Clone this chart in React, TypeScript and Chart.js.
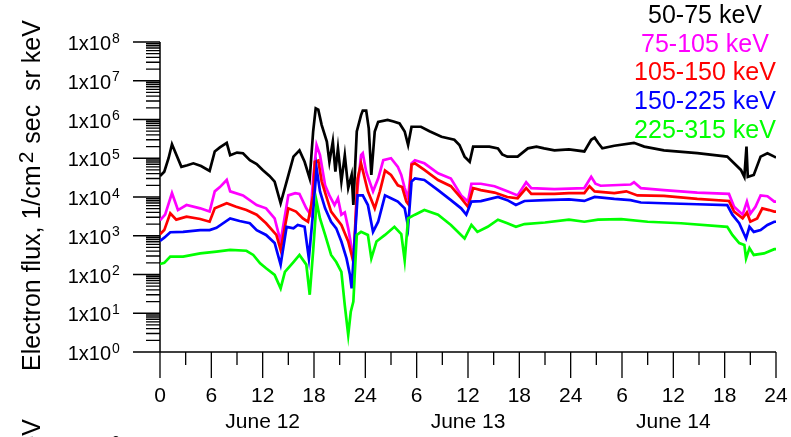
import React, { useEffect, useRef } from "react";
import { Chart, registerables } from "chart.js";

Chart.register(...registerables);

// ---- Data (hours since June 12 00:00 UT, flux in 1/(cm2 sec sr keV)) ----
const seriesLabels = ["50-75 keV", "75-105 keV", "105-150 keV", "150-225 keV", "225-315 keV"];
const seriesColors = ["#000000", "#ff00ff", "#ff0000", "#0000ff", "#00ff00"];

const blackHours = [0, 0.5, 1, 1.4, 1.8, 2.5, 3.2, 3.9, 4.8, 5.8, 6.4, 7, 7.8, 8.2, 9, 9.7, 10.5, 11.3, 12, 12.8, 13.4, 14.1, 14.8, 15.6, 16.3, 16.9, 17.5, 17.9, 18.2, 18.5, 18.9, 19.5, 19.8, 20.2, 20.5, 20.8, 21.2, 21.6, 22, 22.4, 22.6, 23, 23.5, 23.7, 24.1, 24.4, 24.7, 25.1, 25.5, 26.6, 27.3, 28, 28.6, 29, 29.4, 30.5, 31.5, 32.9, 34.4, 35, 35.6, 36.2, 36.6, 37.5, 38.5, 39.5, 40, 40.6, 41.8, 43, 44, 44.9, 46.1, 47.8, 49.6, 50.4, 50.8, 51.2, 51.7, 53.1, 55.4, 56.6, 58.9, 62.8, 66.3, 67.1, 67.9, 68.3, 68.55, 68.7, 69.4, 70.2, 71, 71.8, 72];
const blackFlux = [3.5e4, 4.5e4, 1.0e5, 2.3e5, 1.4e5, 6.0e4, 6.6e4, 7.4e4, 6.3e4, 4.7e4, 1.5e5, 1.9e5, 2.5e5, 1.2e5, 1.4e5, 1.35e5, 8.9e4, 7.1e4, 5.0e4, 3.5e4, 2.5e4, 6.9e3, 2.5e4, 1.1e5, 1.6e5, 8.1e4, 3.0e4, 4.9e5, 1.95e6, 1.8e6, 7.2e5, 2.7e5, 8.1e4, 2.7e5, 4.5e4, 1.8e5, 2.5e4, 1.2e5, 1.7e4, 3.7e4, 6.2e3, 4.9e5, 1.3e6, 1.7e6, 1.7e6, 5.9e5, 3.7e4, 4.9e5, 8.7e5, 9.8e5, 8.9e5, 7.9e5, 4.9e5, 2.2e5, 6.5e5, 6.5e5, 5.0e5, 3.6e5, 3.0e5, 2.2e5, 1.1e5, 8.1e4, 2.0e5, 2.0e5, 2.0e5, 1.8e5, 1.26e5, 1.1e5, 1.1e5, 1.8e5, 2.0e5, 1.8e5, 1.6e5, 1.7e5, 1.5e5, 3.0e5, 3.4e5, 2.5e5, 1.8e5, 2.1e5, 2.5e5, 2.0e5, 1.6e5, 1.35e5, 1.1e5, 7.4e4, 5.0e4, 3.3e4, 2.0e5, 3.3e4, 3.7e4, 1.1e5, 1.35e5, 1.1e5, 1.05e5];

const magentaHours = [0, 0.6, 1.4, 2.1, 3.1, 4.7, 5.8, 6.4, 7, 7.8, 8.2, 9.7, 11.3, 12.4, 13.4, 14.1, 15, 15.8, 16.3, 17.1, 17.6, 17.9, 18.3, 18.7, 19.3, 19.8, 20.4, 20.8, 21.2, 21.6, 22, 22.4, 22.7, 23, 23.5, 23.7, 24.1, 24.9, 25.5, 26.1, 27, 27.8, 28.2, 28.6, 29, 29.4, 29.8, 30.9, 32.5, 34, 35.2, 36, 36.4, 37.5, 39.1, 40.6, 41.8, 42.8, 43.4, 46.1, 49.6, 50.4, 50.9, 51.5, 55, 55.4, 56.2, 58.9, 62.8, 66.5, 67.1, 68.1, 68.6, 69, 69.6, 70.2, 71, 71.8, 72];
const magentaFlux = [2.5e3, 3.5e3, 1.26e4, 4.6e3, 6.2e3, 5.1e3, 4.2e3, 1.4e4, 1.8e4, 2.75e4, 1.4e4, 1.1e4, 6.2e3, 5.1e3, 2.8e3, 7.1e2, 1.1e4, 1.26e4, 1.2e4, 5.1e3, 3.5e3, 3.0e4, 2.2e5, 1.2e5, 2.0e4, 1.1e4, 6.2e3, 9.3e3, 3.5e3, 4.0e3, 1.55e3, 4.8e2, 3.2e2, 1.1e4, 1.2e5, 1.35e5, 4.5e4, 1.4e4, 3.0e4, 8.9e4, 1.0e5, 6.0e4, 3.7e4, 1.7e4, 9.3e3, 7.4e4, 8.9e4, 7.4e4, 4.1e4, 3.0e4, 1.1e4, 7.6e3, 2.2e4, 2.2e4, 1.9e4, 1.4e4, 1.1e4, 2.4e4, 1.7e4, 1.6e4, 1.7e4, 3.3e4, 2.2e4, 1.95e4, 2.1e4, 2.4e4, 1.7e4, 1.5e4, 1.3e4, 1.2e4, 5.6e3, 3.5e3, 7.6e3, 3.7e3, 5.6e3, 1.1e4, 1.05e4, 7.6e3, 7.6e3];

const redHours = [0, 0.5, 1.2, 1.9, 3.1, 4.7, 5.8, 6.4, 7.8, 8.9, 10.1, 11.3, 12.4, 13.6, 14.1, 15, 15.9, 16.7, 17.3, 17.9, 18.1, 18.5, 18.9, 19.5, 20, 20.6, 21.2, 22, 22.4, 22.6, 23, 23.1, 23.5, 24.3, 25.1, 25.7, 26.3, 27, 27.8, 28.3, 28.8, 29.1, 29.4, 29.8, 30.9, 32.5, 34, 35.2, 36, 36.6, 37.5, 39.1, 40.6, 41.8, 42.8, 43.4, 46.1, 47.8, 49.6, 50.2, 50.8, 53.1, 54.5, 55.8, 58.9, 62.8, 66.5, 67.1, 68.1, 68.6, 69, 69.8, 70.4, 71.2, 71.8, 72];
const redFlux = [1.1e3, 1.4e3, 3.8e3, 2.6e3, 3.1e3, 2.7e3, 2.3e3, 5.1e3, 6.9e3, 5.6e3, 4.6e3, 3.5e3, 2.1e3, 1.05e3, 4.3e2, 5.1e3, 4.2e3, 2.8e3, 2.3e3, 1.1e4, 8.1e4, 8.7e4, 2.5e4, 9.3e3, 4.2e3, 2.8e3, 1.9e3, 7.1e2, 3.2e2, 2.1e2, 1.1e4, 3.0e4, 7.4e4, 1.4e4, 5.1e3, 1.4e4, 4.8e4, 3.7e4, 2.0e4, 1.8e4, 7.6e3, 6.2e3, 6.8e4, 7.4e4, 5.0e4, 2.75e4, 1.9e4, 9.3e3, 5.6e3, 1.7e4, 1.5e4, 1.3e4, 1.0e4, 9.3e3, 1.7e4, 1.2e4, 1.2e4, 1.26e4, 1.26e4, 1.9e4, 1.4e4, 1.26e4, 1.4e4, 1.1e4, 1.07e4, 8.9e3, 7.9e3, 4.2e3, 2.8e3, 4.0e3, 2.3e3, 2.8e3, 5.1e3, 4.6e3, 4.2e3, 4.2e3];

const blueHours = [0, 0.5, 1.2, 2.7, 4.7, 5.8, 6.6, 8.2, 9.3, 10.5, 11.3, 12.4, 13.4, 14.1, 14.8, 15.6, 16.1, 16.9, 17.4, 17.9, 18.3, 18.7, 19.3, 20, 20.6, 21.2, 21.8, 22.2, 22.4, 22.7, 23.1, 23.7, 24.3, 24.9, 25.5, 26.3, 27, 27.8, 28.6, 29, 29.4, 29.8, 30.9, 32.5, 34, 35.2, 35.8, 36.4, 37.5, 39.5, 40.6, 41.6, 42.6, 45, 47.8, 49.6, 50.8, 53.1, 55, 56.2, 58.9, 62.8, 66.3, 66.9, 67.7, 68.5, 68.9, 69.4, 70.2, 71, 71.8, 72];
const blueFlux = [7.4e2, 8.9e2, 1.23e3, 1.26e3, 1.4e3, 1.4e3, 1.6e3, 2.8e3, 2.4e3, 2.1e3, 1.4e3, 1.05e3, 6.5e2, 1.8e2, 1.7e3, 1.55e3, 1.9e3, 1.7e3, 2.6e2, 4.2e3, 5.5e4, 1.4e4, 5.1e3, 2.3e3, 1.55e3, 7.1e2, 2.6e2, 98, 44, 4.8e2, 1.1e4, 1.1e4, 6.2e3, 1.26e3, 2.3e3, 1.1e4, 9.3e3, 7.6e3, 5.1e3, 1.7e3, 2.5e4, 3.0e4, 2.75e4, 1.5e4, 8.3e3, 5.1e3, 3.5e3, 7.6e3, 7.8e3, 1.0e4, 8.3e3, 6.2e3, 7.9e3, 8.3e3, 8.7e3, 7.9e3, 1.0e4, 8.9e3, 8.3e3, 7.2e3, 6.9e3, 6.5e3, 6.2e3, 3.5e3, 2.1e3, 8.5e2, 1.7e3, 1.26e3, 1.4e3, 1.9e3, 2.3e3, 2.3e3];

const greenHours = [0, 0.5, 1.2, 2.7, 4.7, 6.6, 8.2, 10.1, 10.9, 11.7, 12.4, 13.4, 14.1, 14.6, 15.6, 16.3, 17.1, 17.5, 17.9, 18.3, 18.7, 19.3, 20, 20.6, 21.2, 21.6, 22, 22.3, 22.6, 23, 23.5, 24.3, 24.7, 25.3, 26.3, 27.4, 28.2, 28.6, 29, 29.8, 30.9, 32.5, 34, 35.6, 36.4, 37.1, 38.3, 39.5, 40.6, 41.6, 42.6, 45, 47.8, 49.6, 51.2, 53.9, 57, 60.9, 66.3, 66.9, 67.7, 68.3, 68.5, 68.9, 69.4, 70.6, 71.8, 72];
const greenFlux = [1.86e2, 2.0e2, 2.9e2, 2.9e2, 3.5e2, 3.9e2, 4.3e2, 4.1e2, 3.2e2, 1.95e2, 1.45e2, 98, 44, 1.17e2, 2.1e2, 3.2e2, 1.8e2, 30, 4.0e2, 7.6e3, 2.8e3, 1.05e3, 3.2e2, 2.1e2, 1.17e2, 16, 2.75, 11, 20, 1.05e3, 1.26e3, 1.05e3, 2.6e2, 7.1e2, 1.05e3, 1.7e3, 1.1e3, 2.3e2, 2.8e3, 3.5e3, 4.6e3, 3.5e3, 1.9e3, 8.5e2, 1.9e3, 1.26e3, 1.7e3, 2.6e3, 2.1e3, 1.7e3, 2.0e3, 2.2e3, 2.6e3, 2.3e3, 2.6e3, 2.7e3, 2.3e3, 2.1e3, 1.7e3, 1.05e3, 6.5e2, 5.8e2, 2.6e2, 4.8e2, 3.2e2, 3.5e2, 4.5e2, 4.5e2];

// ---- Axis ticks ----
const xTickHours = [0, 6, 12, 18, 24, 30, 36, 42, 48, 54, 60, 66, 72];
const xTickLabels = ["0", "6", "12", "18", "24", "6", "12", "18", "24", "6", "12", "18", "24"];
const xMinorTickHours = [3, 9, 15, 21, 27, 33, 39, 45, 51, 57, 63, 69];
const dayCenterHours = [12, 36, 60];
const dayLabels = ["June 12", "June 13", "June 14"];
const yTickExponents = [0, 1, 2, 3, 4, 5, 6, 7, 8];
const yTickMantissas = [2, 3, 4, 5, 6, 7, 8, 9];
const yTitleMain = "Electron flux, 1/cm";
const yTitleSup = "2";
const yTitleRest = " sec  sr keV";

const FONT = "'Liberation Sans', Arial, Helvetica, sans-serif";

const decorPlugin = {
  id: "decor",
  beforeDatasetsDraw(chart: any) {
    const { ctx, scales } = chart;
    const xs = scales.x;
    const ys = scales.y;
    const xLeft = xs.getPixelForValue(0);
    const xRight = xs.getPixelForValue(72);
    const yBottom = ys.getPixelForValue(1);
    const yTop = ys.getPixelForValue(1e8);
    ctx.save();
    ctx.strokeStyle = "#000";
    ctx.lineWidth = 1.5;
    ctx.beginPath();
    ctx.moveTo(xLeft, yTop);
    ctx.lineTo(xLeft, yBottom);
    ctx.moveTo(xLeft, yBottom);
    ctx.lineTo(xRight, yBottom);
    ctx.stroke();

    // y ticks
    ctx.lineWidth = 1.3;
    ctx.beginPath();
    yTickExponents.forEach((e) => {
      const y = ys.getPixelForValue(Math.pow(10, e));
      ctx.moveTo(xLeft - 27, y);
      ctx.lineTo(xLeft, y);
      if (e < 8) {
        yTickMantissas.forEach((m) => {
          const ym = ys.getPixelForValue(m * Math.pow(10, e));
          ctx.moveTo(xLeft - 14, ym);
          ctx.lineTo(xLeft, ym);
        });
      }
    });
    // x ticks
    xTickHours.forEach((h) => {
      const x = xs.getPixelForValue(h);
      ctx.moveTo(x, yBottom);
      ctx.lineTo(x, yBottom + 26);
    });
    xMinorTickHours.forEach((h) => {
      const x = xs.getPixelForValue(h);
      ctx.moveTo(x, yBottom);
      ctx.lineTo(x, yBottom + 13);
    });
    ctx.stroke();

    // y labels
    ctx.fillStyle = "#000";
    ctx.textBaseline = "alphabetic";
    yTickExponents.forEach((e) => {
      const y = ys.getPixelForValue(Math.pow(10, e));
      ctx.font = `20px ${FONT}`;
      ctx.textAlign = "right";
      ctx.fillText("1x10", 111, y + 8);
      ctx.font = `14px ${FONT}`;
      ctx.textAlign = "left";
      ctx.fillText(String(e), 112, y + 0.5);
    });
    // fragment of the next panel's top label
    ctx.font = `14px ${FONT}`;
    ctx.textAlign = "left";
    ctx.fillText("8", 112, 446);

    // x labels
    ctx.font = `21px ${FONT}`;
    ctx.textAlign = "center";
    ctx.textBaseline = "middle";
    xTickHours.forEach((h, i) => {
      ctx.fillText(xTickLabels[i], xs.getPixelForValue(h), yBottom + 44);
    });
    dayCenterHours.forEach((h, i) => {
      ctx.fillText(dayLabels[i], xs.getPixelForValue(h), yBottom + 70);
    });

    // y title (rotated)
    const drawTitle = (cx: number, endY: number | null, startY: number | null) => {
      ctx.save();
      ctx.font = `25px ${FONT}`;
      const w1 = ctx.measureText(yTitleMain).width;
      ctx.font = `21px ${FONT}`;
      const w2 = ctx.measureText(yTitleSup).width + 3;
      ctx.font = `25px ${FONT}`;
      const w3 = ctx.measureText(yTitleRest).width;
      const total = w1 + w2 + w3;
      const sy = startY !== null ? startY : (endY as number) + total;
      ctx.translate(cx, sy);
      ctx.rotate(-Math.PI / 2);
      ctx.textAlign = "left";
      ctx.textBaseline = "alphabetic";
      ctx.fillText(yTitleMain, 0, 0);
      ctx.font = `21px ${FONT}`;
      ctx.fillText(yTitleSup, w1 + 2, -7);
      ctx.font = `25px ${FONT}`;
      ctx.fillText(yTitleRest, w1 + w2, 0);
      ctx.restore();
    };
    drawTitle(40, null, 371);
    drawTitle(40, 419, null);

    // legend
    ctx.font = `25px ${FONT}`;
    ctx.textAlign = "center";
    ctx.textBaseline = "middle";
    seriesLabels.forEach((lab, i) => {
      ctx.fillStyle = seriesColors[i];
      ctx.fillText(lab, 705, 16 + i * 28.8);
    });
    ctx.restore();
  },
};

function makeSeries(hours: number[], flux: number[]) {
  return hours.map((h, i) => ({ x: h, y: flux[i] }));
}

export default function App() {
  const canvasRef = useRef<HTMLCanvasElement | null>(null);

  useEffect(() => {
    if (!canvasRef.current) return;
    const allHours = [blackHours, magentaHours, redHours, blueHours, greenHours];
    const allFlux = [blackFlux, magentaFlux, redFlux, blueFlux, greenFlux];
    const chart = new Chart(canvasRef.current, {
      type: "line",
      data: {
        datasets: seriesLabels.map((lab, i) => ({
          label: lab,
          data: makeSeries(allHours[i], allFlux[i]),
          borderColor: seriesColors[i],
          backgroundColor: seriesColors[i],
          borderWidth: 2.7,
          pointRadius: 0,
          tension: 0,
          fill: false,
          order: 5 - i,
        })),
      },
      options: {
        animation: false,
        responsive: false,
        maintainAspectRatio: false,
        layout: { padding: { left: 160, right: 15, top: 42, bottom: 85 } },
        plugins: { legend: { display: false }, tooltip: { enabled: false }, title: { display: false } },
        events: [],
        scales: {
          x: { type: "linear", min: 0, max: 72, display: false },
          y: { type: "logarithmic", min: 1, max: 1e8, display: false },
        },
      },
      plugins: [decorPlugin],
    });
    return () => chart.destroy();
  }, []);

  return (
    <div style={{ position: "absolute", left: 0, top: 0, width: 791, height: 437, background: "#fff" }}>
      <canvas ref={canvasRef} width={791} height={437} style={{ display: "block", width: 791, height: 437 }} />
    </div>
  );
}
